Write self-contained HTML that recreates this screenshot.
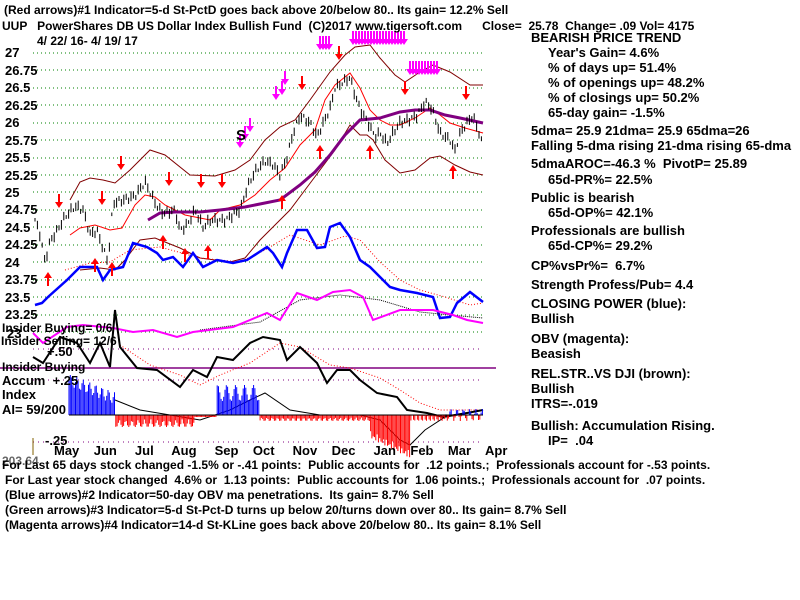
<!DOCTYPE html>
<html><head><meta charset="utf-8"><style>
body{margin:0;background:#fff;width:800px;height:600px;overflow:hidden;position:relative;font-family:"Liberation Sans",sans-serif;font-weight:bold;font-size:13px;color:#000}
.t{position:absolute;white-space:pre;line-height:14px}
.s{font-size:12px}
svg{position:absolute;left:0;top:0}
</style></head><body>
<svg width="800" height="600" id="s">
<g stroke="#008000" stroke-dasharray="1,3" stroke-width="1">
<line x1="33" x2="483" y1="53" y2="53"/><line x1="33" x2="483" y1="70" y2="70"/><line x1="33" x2="483" y1="88" y2="88"/><line x1="33" x2="483" y1="105" y2="105"/><line x1="33" x2="483" y1="123" y2="123"/><line x1="33" x2="483" y1="140" y2="140"/><line x1="33" x2="483" y1="158" y2="158"/><line x1="33" x2="483" y1="175" y2="175"/><line x1="33" x2="483" y1="192" y2="192"/><line x1="33" x2="483" y1="210" y2="210"/><line x1="33" x2="483" y1="227" y2="227"/><line x1="33" x2="483" y1="245" y2="245"/><line x1="33" x2="483" y1="262" y2="262"/><line x1="33" x2="483" y1="280" y2="280"/><line x1="33" x2="483" y1="297" y2="297"/><line x1="33" x2="483" y1="315" y2="315"/><line x1="33" x2="483" y1="332" y2="332"/>
</g>
<g stroke="#800080" stroke-dasharray="1,4"><line x1="33" x2="483" y1="349" y2="349"/><line x1="33" x2="483" y1="380" y2="380"/><line x1="33" x2="483" y1="442" y2="442"/></g>
<line x1="0" x2="496" y1="368" y2="368" stroke="#800080" stroke-width="1.5"/>
<line x1="33" x2="33" y1="438" y2="455" stroke="#806000"/>
<g fill="none">
<polyline stroke="#800000" points="70,200 80,182 90,178 103,180 115,183 130,170 150,150 165,155 190,175 215,176 235,170 250,160 265,140 280,127 295,120 310,100 330,72 345,55 355,47 370,45 380,58 395,75 405,82 420,72 433,65 450,72 470,85 483,85"/>
<polyline stroke="#800000" points="80,270 100,268 115,270 125,260 140,240 155,238 165,242 180,248 200,258 230,262 245,258 260,240 275,225 290,210 305,190 320,170 335,150 350,125 360,135 367,135 373,140 385,160 400,173 415,170 430,158 440,156 455,165 470,172 483,175"/>
<polyline stroke="#f00" points="70,235 80,228 95,225 110,230 122,228 135,205 145,195 155,197 165,205 185,215 200,218 210,220 220,210 240,205 255,195 270,180 285,168 300,145 315,130 325,100 335,85 350,73 360,88 370,110 380,120 390,125 400,125 415,118 430,108 440,115 450,123 465,128 483,133"/>
<polyline stroke="#800080" stroke-width="3" points="148,220 160,213 175,212 200,212 220,210 245,207 280,200 300,185 315,172 330,155 345,135 360,120 380,118 400,112 415,110 430,110 445,115 460,118 483,123"/>
<polyline stroke="#f00" stroke-dasharray="1,2" points="65,270 90,263 110,262 130,250 160,247 200,258 240,262 265,250 290,235 320,245 345,236 360,240 380,262 400,280 420,290 445,297 470,305 483,303"/>
<polyline stroke="#00f" stroke-width="2.5" points="35,305 42,303 48,297 67,280 80,267 97,267 103,280 110,270 123,267 133,243 147,247 157,253 163,260 173,257 183,267 193,253 203,267 217,260 233,263 247,260 267,247 273,253 282,267 287,253 297,230 307,230 317,248 325,247 330,227 340,223 350,237 360,260 370,267 380,277 390,287 400,290 417,293 433,297 440,318 450,317 457,303 470,292 483,302"/>
<polyline stroke="#000" stroke-dasharray="1,1" points="200,330 260,322 300,300 340,295 380,300 420,312 450,315 483,318"/>
<polyline stroke="#f0f" stroke-width="2" points="33,333 43,343 67,327 83,325 113,328 133,332 153,330 177,337 193,332 233,327 267,313 280,320 297,293 317,300 333,292 350,290 363,297 373,320 400,310 433,310 453,315 467,320 483,323"/>
<polyline stroke="#f00" stroke-dasharray="1,2" points="120,345 150,365 180,375 200,385 220,375 250,363 280,343 300,347 330,365 350,368 380,378 400,390 420,403 440,410 483,410"/>
<polyline stroke="#000" stroke-width="2" points="33,357 43,363 60,337 77,343 90,363 100,343 110,367 115,310 120,347 137,368 157,370 180,387 193,370 207,377 217,357 233,360 250,343 263,337 280,340 287,360 300,347 317,363 327,383 337,370 350,370 360,380 377,393 397,397 407,410 427,413 443,417 467,413 483,410"/>
<polyline stroke="#000" points="115,400 140,410 200,420 230,410 250,400 265,393 290,410 320,415 360,415 380,420 400,440 410,445 425,430 445,417 483,410"/>
</g>
<g id="bars" stroke="#000" stroke-width="1"></g>
<g id="acc"></g>
<g id="arr"></g>
</svg>
<div class="t s" style="left:4px;top:3px">(Red arrows)#1 Indicator=5-d St-PctD goes back above 20/below 80.. Its gain= 12.2% Sell</div>
<div class="t s" style="left:2px;top:19px">UUP   PowerShares DB US Dollar Index Bullish Fund  (C)2017 www.tigersoft.com      Close=  25.78  Change= .09 Vol= 4175</div>
<div class="t s" style="left:37px;top:34px">4/ 22/ 16- 4/ 19/ 17</div>
<div class="t" style="left:5px;top:46px">27</div>
<div class="t" style="left:5px;top:64px">26.75</div><div class="t" style="left:5px;top:81px">26.5</div><div class="t" style="left:5px;top:99px">26.25</div><div class="t" style="left:5px;top:116px">26</div><div class="t" style="left:5px;top:134px">25.75</div><div class="t" style="left:5px;top:151px">25.5</div><div class="t" style="left:5px;top:169px">25.25</div><div class="t" style="left:5px;top:186px">25</div><div class="t" style="left:5px;top:203px">24.75</div><div class="t" style="left:5px;top:221px">24.5</div><div class="t" style="left:5px;top:238px">24.25</div><div class="t" style="left:5px;top:256px">24</div><div class="t" style="left:5px;top:273px">23.75</div><div class="t" style="left:5px;top:291px">23.5</div><div class="t" style="left:5px;top:308px">23.25</div>
<div class="t s" style="left:2px;top:321px">Insider Buying= 0/6</div>
<div class="t" style="left:7px;top:327px">23</div>
<div class="t s" style="left:1px;top:334px">Insider Selling= 12/6</div>
<div class="t" style="left:47px;top:345px">+.50</div>
<div class="t s" style="left:2px;top:360px">Insider Buying</div>
<div class="t" style="left:2px;top:374px">Accum  +.25</div>
<div class="t" style="left:2px;top:388px">Index</div>
<div class="t" style="left:2px;top:403px">AI= 59/200</div>
<div class="t" style="left:45px;top:434px">-.25</div>
<div class="t" style="left:54px;top:444px">May    Jun     Jul     Aug     Sep    Oct     Nov    Dec     Jan    Feb    Mar    Apr</div>
<div class="t s" style="left:2px;top:458px">For Last 65 days stock changed -1.5% or -.41 points:  Public accounts for  .12 points.;  Professionals account for -.53 points.</div>
<div class="t s" style="left:2px;top:454px;opacity:.6">203.64</div>
<div class="t s" style="left:5px;top:473px">For Last year stock changed  4.6% or  1.13 points:  Public accounts for  1.06 points.;  Professionals account for  .07 points.</div>
<div class="t s" style="left:5px;top:488px">(Blue arrows)#2 Indicator=50-day OBV ma penetrations.  Its gain= 8.7% Sell</div>
<div class="t s" style="left:5px;top:503px">(Green arrows)#3 Indicator=5-d St-Pct-D turns up below 20/turns down over 80.. Its gain= 8.7% Sell</div>
<div class="t s" style="left:5px;top:518px">(Magenta arrows)#4 Indicator=14-d St-KLine goes back above 20/below 80.. Its gain= 8.1% Sell</div>
<div class="t" style="left:531px;top:31px">BEARISH PRICE TREND</div>
<div class="t" style="left:548px;top:46px">Year's Gain= 4.6%</div>
<div class="t" style="left:548px;top:61px">% of days up= 51.4%</div>
<div class="t" style="left:548px;top:76px">% of openings up= 48.2%</div>
<div class="t" style="left:548px;top:91px">% of closings up= 50.2%</div>
<div class="t" style="left:548px;top:106px">65-day gain= -1.5%</div>
<div class="t" style="left:531px;top:124px">5dma= 25.9 21dma= 25.9 65dma=26</div>
<div class="t" style="left:531px;top:139px">Falling 5-dma rising 21-dma rising 65-dma</div>
<div class="t" style="left:531px;top:157px">5dmaAROC=-46.3 %  PivotP= 25.89</div>
<div class="t" style="left:548px;top:173px">65d-PR%= 22.5%</div>
<div class="t" style="left:531px;top:191px">Public is bearish</div>
<div class="t" style="left:548px;top:206px">65d-OP%= 42.1%</div>
<div class="t" style="left:531px;top:224px">Professionals are bullish</div>
<div class="t" style="left:548px;top:239px">65d-CP%= 29.2%</div>
<div class="t" style="left:531px;top:259px">CP%vsPr%=  6.7%</div>
<div class="t" style="left:531px;top:278px">Strength Profess/Pub= 4.4</div>
<div class="t" style="left:531px;top:297px">CLOSING POWER (blue):</div>
<div class="t" style="left:531px;top:312px">Bullish</div>
<div class="t" style="left:531px;top:332px">OBV (magenta):</div>
<div class="t" style="left:531px;top:347px">Beasish</div>
<div class="t" style="left:531px;top:367px">REL.STR..VS DJI (brown):</div>
<div class="t" style="left:531px;top:382px">Bullish</div>
<div class="t" style="left:531px;top:397px">ITRS=-.019</div>
<div class="t" style="left:531px;top:419px">Bullish: Accumulation Rising.</div>
<div class="t" style="left:548px;top:434px">IP=  .04</div>
<script>
var P=[[35,24.6],[40,24.4],[45,24.0],[50,24.3],[57,24.45],[65,24.65],[75,24.8],[83,24.75],[90,24.4],[97,24.45],[103,24.2],[108,24.0],[113,24.85],[125,24.9],[135,24.95],[145,25.15],[150,25.0],[157,24.8],[163,24.7],[175,24.75],[180,24.45],[188,24.55],[195,24.75],[203,24.5],[210,24.6],[225,24.6],[235,24.7],[240,24.75],[248,25.1],[255,25.3],[265,25.45],[273,25.4],[280,25.25],[287,25.5],[293,25.85],[300,26.1],[310,26.0],[317,25.8],[325,26.05],[330,26.2],[335,26.5],[345,26.6],[350,26.65],[355,26.4],[360,26.2],[368,26.0],[375,25.8],[380,25.85],[387,25.7],[393,25.85],[400,26.0],[410,26.05],[417,26.1],[425,26.3],[432,26.2],[440,25.85],[450,25.75],[455,25.6],[460,25.85],[467,26.0],[473,26.1],[478,25.9],[482,25.7]];
function Y(p){return 53+(27-p)*69.7}
function I(x){for(var i=0;i<P.length-1;i++){if(x<=P[i+1][0]){var t=(x-P[i][0])/(P[i+1][0]-P[i][0]);return P[i][1]+t*(P[i+1][1]-P[i][1]);}}return P[P.length-1][1];}
var s="";
for(var x=35;x<=483;x+=2.4){var p=I(x)+(Math.sin(x*1.7)*0.04);var y=Y(p);var h=3+Math.abs(Math.sin(x*0.9))*7;s+='<line x1="'+x.toFixed(1)+'" x2="'+x.toFixed(1)+'" y1="'+(y-h/2).toFixed(1)+'" y2="'+(y+h/2).toFixed(1)+'"/>';}
document.getElementById("bars").innerHTML=s;
var a="";function acc(x){
if(x<69)return 0;if(x<115)return -(35-(x-69)*0.4+Math.sin(x)*6);
if(x<195)return 4+Math.abs(Math.sin(x*0.5))*8;if(x<217)return 2;
if(x<260)return -(22+Math.sin(x*0.7)*8);if(x<370)return 2+Math.abs(Math.sin(x*0.6))*4;
if(x<410)return 15+(x-370)*0.5+Math.abs(Math.sin(x))*8;if(x<445)return Math.abs(Math.sin(x*0.8))*6;return Math.sin(x)*6;}
for(var x=69;x<=483;x+=1.3){var v=acc(x);var c=v<0?"#00f":"#f00";a+='<line x1="'+x.toFixed(1)+'" x2="'+x.toFixed(1)+'" y1="415" y2="'+(415+v).toFixed(1)+'" stroke="'+c+'"/>';}
a+='<line x1="69" x2="483" y1="415" y2="415" stroke="#000"/>';
document.getElementById("acc").innerHTML=a;
var r="";function ar(x,y,up,c){c=c||"#f00";if(up)r+='<path d="M'+x+' '+y+'l-4 6h3v8h2v-8h3z" fill="'+c+'"/>';else r+='<path d="M'+x+' '+y+'l-4 -6h3v-8h2v8h3z" fill="'+c+'"/>';}
[[59,208],[102,205],[121,170],[169,186],[201,188],[222,188],[302,90],[339,60],[405,95],[466,100]].forEach(function(q){ar(q[0],q[1],false)});
[[48,272],[95,258],[112,262],[163,235],[185,248],[208,245],[282,195],[320,145],[370,145],[453,165]].forEach(function(q){ar(q[0],q[1],true)});
for(var x=320;x<332;x+=3)ar(x,50,false,"#f0f");for(var x=353;x<406;x+=3)ar(x,45,false,"#f0f");for(var x=410;x<440;x+=3)ar(x,75,false,"#f0f");
ar(276,100,false,"#f0f");ar(282,95,false,"#f0f");ar(285,85,false,"#f0f");ar(240,148,false,"#f0f");ar(245,140,false,"#f0f");ar(250,132,false,"#f0f");
document.getElementById("arr").innerHTML=r+'<text x="236" y="140" font-family="Liberation Sans" font-weight="bold" font-size="15">S</text>';
</script>
</body></html>
